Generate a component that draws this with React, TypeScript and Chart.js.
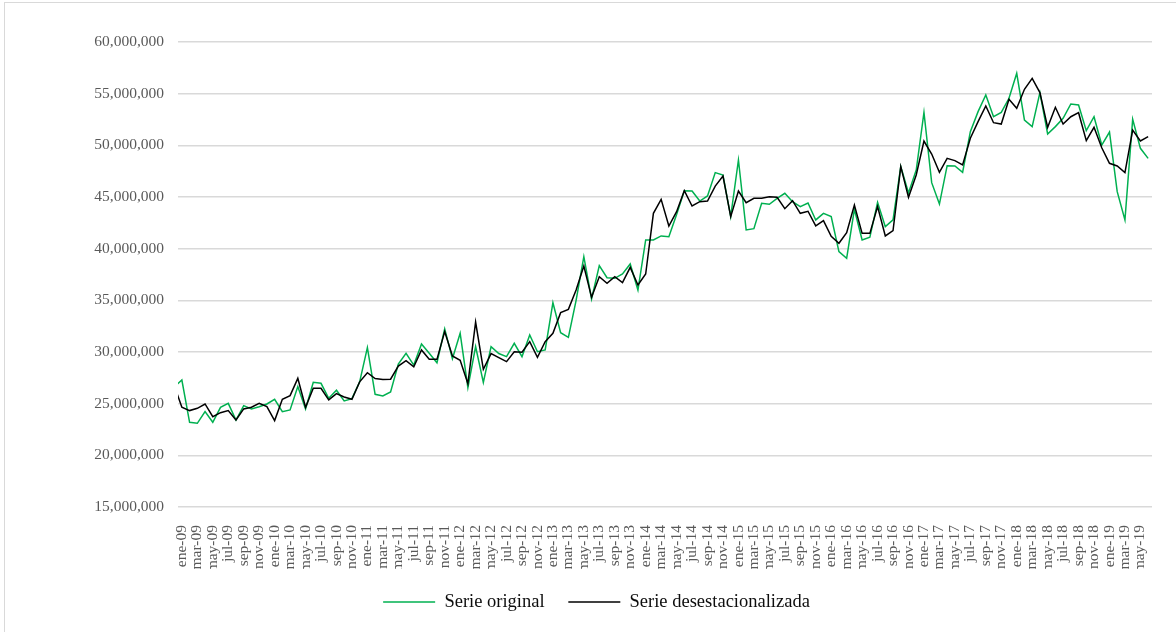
import { useEffect, useRef } from "react";
import { Chart, registerables } from "chart.js";

Chart.register(...registerables);

// Month abbreviations and years used for the category labels
const monthNames = ["ene", "feb", "mar", "abr", "may", "jun", "jul", "ago", "sep", "oct", "nov", "dic"];
const years = ["09", "10", "11", "12", "13", "14", "15", "16", "17", "18", "19"];
const lastMonthOfLastYear = 6; // data ends in jun-19
const leadingCategory = "dic-08"; // partially visible (clipped) point at the left edge
const firstShownCategory = "ene-09";

const categories: string[] = [leadingCategory];
years.forEach((y, yi) => {
  const n = yi === years.length - 1 ? lastMonthOfLastYear : 12;
  for (let m = 0; m < n; m++) categories.push(`${monthNames[m]}-${y}`);
});

// Values in millions, dic-08 .. jun-19
const serieOriginal = [
  26.6,
  27.29, 23.2, 23.1, 24.23, 23.2, 24.65, 25.03, 23.42, 24.81, 24.49, 24.7, 24.97,
  25.42, 24.23, 24.39, 26.65, 24.49, 27.07, 26.97, 25.52, 26.3, 25.26, 25.49, 27.11,
  30.42, 25.91, 25.75, 26.14, 28.83, 29.87, 28.73, 30.78, 29.87, 28.96, 32.24, 29.35,
  31.82, 26.56, 30.52, 27.05, 30.52, 29.85, 29.55, 30.84, 29.55, 31.65, 30.03, 30.2,
  34.77, 31.87, 31.42, 35.0, 39.23, 35.13, 38.36, 37.19, 37.13, 37.55, 38.52, 36.0,
  40.84, 40.84, 41.23, 41.16, 43.3, 45.61, 45.58, 44.61, 45.1, 47.36, 47.13, 43.1,
  48.58, 41.81, 41.94, 44.39, 44.29, 44.87, 45.36, 44.55, 44.07, 44.42, 42.78, 43.42,
  43.1, 39.71, 39.07, 43.81, 40.84, 41.1, 44.48, 42.13, 42.78, 47.94, 45.4, 47.61,
  53.19, 46.39, 44.32, 48.03, 48.0, 47.39, 51.32, 53.26, 54.87, 52.77, 53.19, 54.55,
  56.97, 52.45, 51.81, 55.1, 51.1, 51.81, 52.61, 54.0, 53.9, 51.42, 52.77, 50.03,
  51.29, 45.52, 42.78, 52.52, 49.71, 48.74,
];

const serieDesestacionalizada = [
  26.8,
  24.65, 24.33, 24.55, 24.97, 23.74, 24.13, 24.33, 23.42, 24.49, 24.65, 25.03, 24.71,
  23.36, 25.42, 25.78, 27.45, 24.65, 26.49, 26.49, 25.36, 25.97, 25.65, 25.42, 27.11,
  27.99, 27.43, 27.34, 27.37, 28.64, 29.16, 28.57, 30.2, 29.29, 29.29, 31.98, 29.61,
  29.2, 26.95, 32.9, 28.33, 29.85, 29.45, 29.07, 30.03, 29.97, 31.0, 29.49, 31.0,
  31.81, 33.81, 34.13, 36.0, 38.32, 35.29, 37.29, 36.65, 37.29, 36.71, 38.19, 36.48,
  37.55, 43.42, 44.77, 42.19, 43.58, 45.61, 44.13, 44.55, 44.61, 46.06, 47.03, 43.1,
  45.58, 44.45, 44.87, 44.87, 45.03, 44.97, 43.87, 44.65, 43.42, 43.62, 42.21, 42.71,
  41.2, 40.52, 41.55, 44.23, 41.48, 41.48, 44.07, 41.23, 41.74, 47.94, 44.97, 47.13,
  50.42, 49.16, 47.39, 48.74, 48.52, 48.1, 50.68, 52.29, 53.81, 52.19, 52.06, 54.45,
  53.58, 55.42, 56.48, 55.1, 51.74, 53.68, 52.06, 52.77, 53.16, 50.45, 51.74, 49.77,
  48.26, 48.0, 47.36, 51.48, 50.42, 50.84,
];

const seriesNames = ["Serie original", "Serie desestacionalizada"];
const yMin = 15000000;
const yMax = 60000000;
const yStep = 5000000;

export default function App() {
  const canvasRef = useRef<HTMLCanvasElement | null>(null);

  useEffect(() => {
    const canvas = canvasRef.current;
    if (!canvas) return;
    const font = "'Liberation Serif', 'Times New Roman', serif";
    Chart.defaults.font.family = font;

    const chart = new Chart(canvas, {
      type: "line",
      data: {
        labels: categories,
        datasets: [
          {
            label: seriesNames[0],
            data: serieOriginal.map((v) => v * 1e6),
            borderColor: "#00b050",
            backgroundColor: "#00b050",
            borderWidth: 1.5,
            pointRadius: 0,
            tension: 0,
            fill: false,
            order: 1,
          },
          {
            label: seriesNames[1],
            data: serieDesestacionalizada.map((v) => v * 1e6),
            borderColor: "#000000",
            backgroundColor: "#000000",
            borderWidth: 1.5,
            pointRadius: 0,
            tension: 0,
            fill: false,
            order: 0,
          },
        ],
      },
      options: {
        animation: false,
        responsive: false,
        maintainAspectRatio: false,
        events: [],
        layout: { padding: { top: 42, right: 24, bottom: 10.75, left: 41 } },
        plugins: {
          tooltip: { enabled: false },
          legend: {
            position: "bottom",
            labels: {
              usePointStyle: true,
              pointStyle: "line",
              pointStyleWidth: 52,
              padding: 23.75,
              color: "#0d0d0d",
              font: { family: font, size: 18.5 },
              sort: (a: any, b: any) => a.datasetIndex - b.datasetIndex,
            },
          },
        },
        scales: {
          x: {
            type: "category",
            min: firstShownCategory,
            offset: true,
            grid: { display: false },
            border: { display: false },
            ticks: {
              autoSkip: false,
              minRotation: 90,
              maxRotation: 90,
              padding: 10,
              color: "#595959",
              font: { family: font, size: 15.5 },
              callback: (value: any) => {
                const idx = Number(value);
                return idx % 2 === 1 ? categories[idx] : null;
              },
            },
            afterFit: (scale: any) => {
              scale.height = 62;
            },
          },
          y: {
            min: yMin,
            max: yMax,
            border: { display: false },
            grid: { color: "#d9d9d9", lineWidth: 1.5, drawTicks: false },
            ticks: {
              stepSize: yStep,
              padding: 14,
              color: "#595959",
              font: { family: font, size: 15.5 },
              callback: (value: any) => Number(value).toLocaleString("en-US"),
            },
            afterFit: (scale: any) => {
              scale.width = 137;
            },
          },
        },
      },
    });
    return () => chart.destroy();
  }, []);

  return (
    <div
      style={{
        position: "fixed",
        left: 0,
        top: 0,
        width: 1176,
        height: 632,
        overflow: "hidden",
        background: "#ffffff",
      }}
    >
      <div
        style={{
          position: "absolute",
          left: 4,
          top: 2,
          width: 1300,
          height: 800,
          borderTop: "1.5px solid #d9d9d9",
          borderLeft: "1.5px solid #d9d9d9",
        }}
      />
      <canvas
        ref={canvasRef}
        width={1176}
        height={632}
        style={{ position: "absolute", left: 0, top: 0, width: 1176, height: 632 }}
      />
    </div>
  );
}
